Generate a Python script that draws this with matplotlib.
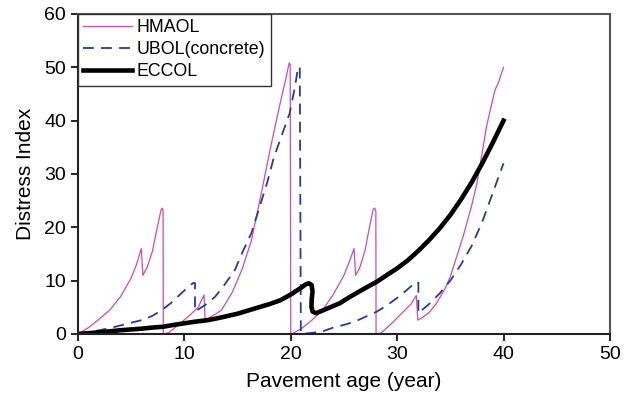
import matplotlib.pyplot as plt

plt.rcParams['font.family'] = ['Liberation Sans', 'DejaVu Sans']

# HMAOL (thin pink)
hm_x = [0, 1, 2, 3, 4, 5, 5.5, 5.95, 6.1, 6.5, 7, 7.3, 7.8, 7.92, 8.0, 8.02,
        8.5, 9.5, 10.5, 11.3, 11.85, 11.95, 12.3, 13, 13.5, 14.5, 15.4, 16.3, 17.4, 18.0, 18.7, 19.2, 19.5, 19.85, 19.95, 20.0,
        20.3, 21, 22, 23, 24, 25, 25.5, 25.95, 26.1, 26.5, 27, 27.3, 27.75, 27.9, 28.0, 28.02,
        28.5, 29.5, 30.5, 31.3, 31.8, 31.95, 32.3, 33, 33.7, 34.5, 35, 36.2, 37, 37.5, 38, 38.4, 39.2, 39.5, 40]
hm_y = [0, 1.2, 2.8, 4.5, 7, 10.5, 13, 16, 11, 12.5, 15.5, 18.5, 23.2, 23.6, 23, 0,
        0.2, 1.8, 3.5, 5, 7.3, 2.8, 3, 3.8, 4.5, 7.8, 12, 17.5, 28, 34, 40.5, 45, 47.5, 50.8, 50.5, 0,
        0.2, 1, 2.6, 4.5, 7.4, 11, 13.5, 16, 11, 12.5, 15.8, 19, 23.4, 23.6, 23, 0,
        0.2, 2, 4, 5.6, 7.2, 2.6, 3, 4, 5.75, 8.5, 10.75, 18.25, 24, 28.25, 34, 38.9, 45.75, 47, 50]

# UBOL(concrete) (dashed blue)
ub_x = [0, 1, 2, 3, 4, 5, 6, 7, 7.9, 8.8, 9.7, 10.3, 10.85, 11.0, 11.0,
        12, 12.9, 13.8, 14.75, 15.5, 16.3, 17.1, 17.8, 18.4, 19.2, 19.9, 20.4, 20.7, 20.85, 20.95,
        21, 22, 23, 24, 25, 26, 27, 28.1, 29, 30.3, 31, 31.8, 32, 32,
        33, 34, 35, 36, 37, 38, 39, 40]
ub_y = [0, 0.3, 0.7, 1.1, 1.6, 2.1, 2.6, 3.4, 4.5, 5.9, 7.6, 8.7, 9.6, 9.5, 4.2,
        5.5, 7, 9.3, 12, 15.5, 18.9, 24, 28.5, 33, 37.5, 41.4, 46.4, 50.1, 50, 0,
        0, 0.2, 0.5, 1.2, 1.7, 2.3, 3.2, 4.2, 5.3, 7.2, 8.4, 9.8, 9.6, 3.9,
        5.6, 7.6, 10, 13, 16.5, 21, 26.5, 32]

# ECCOL (thick black)
ec_x = [0, 1, 2, 3, 4, 5, 6, 7, 8, 9, 10, 11, 12.25, 13, 13.8, 15, 16, 17, 18, 19, 20, 21,
        21.4, 21.7, 21.95, 22.05, 21.97, 21.95, 22.05, 22.4, 23, 24.6, 25.6, 27, 28.1, 29, 30,
        31, 32, 33, 34, 35, 36, 37, 38, 39, 40]
ec_y = [0, 0.15, 0.3, 0.5, 0.7, 0.85, 1.0, 1.2, 1.35, 1.7, 2.0, 2.3, 2.6, 2.9, 3.25, 3.8, 4.4, 5.0, 5.6, 6.3, 7.4, 8.7,
        9.3, 9.5, 9.2, 8.0, 6.5, 5.1, 4.2, 3.9, 4.4, 5.75, 7, 8.6, 9.8, 11, 12.3,
        13.8, 15.6, 17.6, 19.8, 22.3, 25.2, 28.4, 32, 35.9, 40]

fig = plt.figure(figsize=(6.32, 3.99), dpi=100)
ax = fig.add_axes([0.1234, 0.163, 0.8416, 0.802])

ax.plot(hm_x, hm_y, color='#d54aa8', lw=0.9, label='HMAOL')
ax.plot(ub_x, ub_y, color='#2b3a97', lw=1.3, dashes=(6, 4), label='UBOL(concrete)')
ax.plot(ec_x, ec_y, color='black', lw=3.3, label='ECCOL')

ax.set_xlim(0, 50)
ax.set_ylim(0, 60)
ax.set_xticks([0, 10, 20, 30, 40, 50])
ax.set_yticks([0, 10, 20, 30, 40, 50, 60])
ax.tick_params(direction='out', length=5, width=1.2, labelsize=14, top=False, right=False)
for s in ['left', 'bottom']:
    ax.spines[s].set_linewidth(1.5)
    ax.spines[s].set_color('#222222')
for s in ['top', 'right']:
    ax.spines[s].set_linewidth(1.5)
    ax.spines[s].set_color('#555555')

ax.set_xlabel('Pavement age (year)', fontsize=15, labelpad=7)
ax.set_ylabel('Distress Index', fontsize=15, labelpad=7)

leg = ax.legend(loc='upper left', bbox_to_anchor=(0, 1), borderaxespad=0, fontsize=12.8,
                handlelength=2.75, handletextpad=0.25, labelspacing=0.28, borderpad=0.3,
                fancybox=False, framealpha=1, edgecolor='#333333')
leg.get_frame().set_linewidth(1)

fig.savefig('out.png', dpi=100)
